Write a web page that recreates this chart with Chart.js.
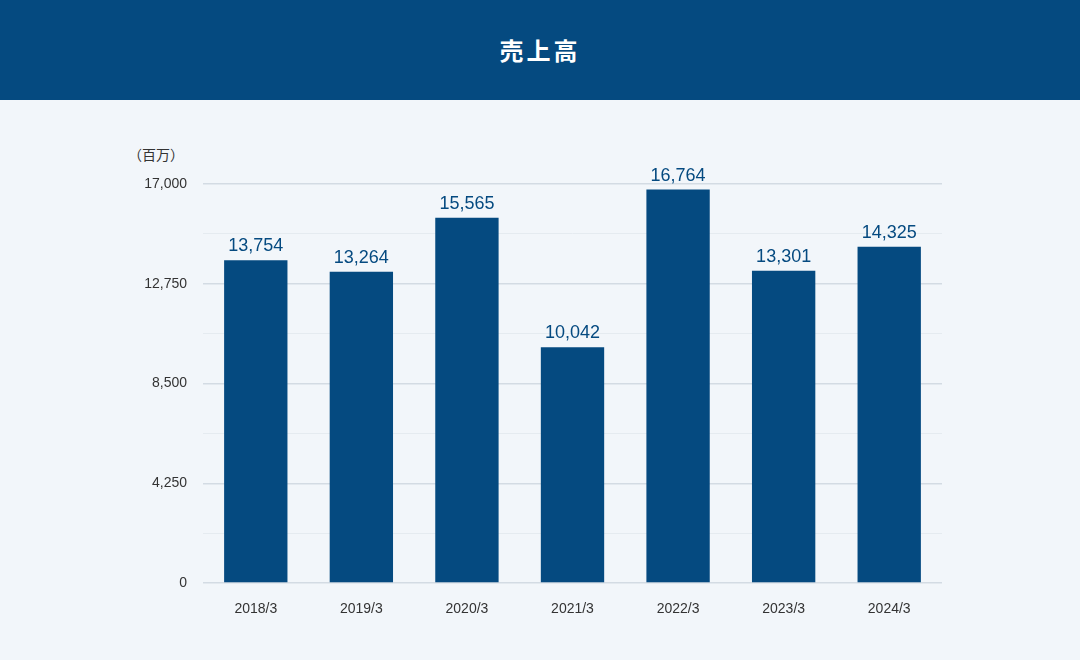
<!DOCTYPE html>
<html>
<head>
<meta charset="utf-8">
<script src="https://cdn.jsdelivr.net/npm/chart.js@4"></script>
<style>
  body { margin: 0; width: 1080px; height: 660px; background: #f2f6fa; font-family: "Noto Sans CJK JP", "Noto Sans", sans-serif; position: relative; overflow: hidden; }
  .head { height: 100px; background: #054a80; color: #fff; font-size: 24px; font-weight: bold; letter-spacing: 3px; text-align: center; line-height: 100px; }
  .unit { position: absolute; left: 128px; top: 144px; font-size: 14px; color: #333; }
  .wrap { position: absolute; left: 0; top: 100px; width: 1080px; height: 560px; }
</style>
</head>
<body>
<div class="head">売上高</div>
<div class="unit">（百万）</div>
<div class="wrap"><canvas id="salesChart"></canvas></div>
<script>
// data
const years = ['2018/3', '2019/3', '2020/3', '2021/3', '2022/3', '2023/3', '2024/3'];
const sales = [13754, 13264, 15565, 10042, 16764, 13301, 14325];
const yMax = 17000;
const yStep = 2125;

const barLabels = {
  id: 'barLabels',
  afterDatasetsDraw(chart) {
    const ctx = chart.ctx;
    ctx.save();
    ctx.fillStyle = '#054a80';
    ctx.font = '18px "Liberation Sans", Arial, sans-serif';
    ctx.textAlign = 'center';
    ctx.textBaseline = 'bottom';
    chart.getDatasetMeta(0).data.forEach((bar, i) => {
      ctx.fillText(sales[i].toLocaleString('en-US'), bar.x, bar.y - 5);
    });
    ctx.restore();
  }
};

new Chart(document.getElementById('salesChart'), {
  type: 'bar',
  data: {
    labels: years,
    datasets: [{ data: sales, backgroundColor: '#054a80', barPercentage: 0.6, categoryPercentage: 1 }]
  },
  options: {
    responsive: true,
    maintainAspectRatio: false,
    animation: false,
    layout: { padding: { top: 84, right: 138, left: 0, bottom: 0 } },
    plugins: { legend: { display: false }, tooltip: { enabled: false } },
    scales: {
      x: {
        grid: { display: false },
        border: { display: false },
        ticks: { color: '#333', font: { size: 14, family: '"Liberation Sans", Arial, sans-serif' }, padding: 10 },
        afterFit(scale) { scale.height = 77; }
      },
      y: {
        min: 0,
        max: yMax,
        border: { display: false },
        grid: {
          drawTicks: false,
          color: c => (c.tick.value % (yStep * 2) === 0 ? '#d3dbe3' : '#e5ebf0'),
          lineWidth: c => (c.tick.value % (yStep * 2) === 0 ? 1.5 : 1)
        },
        ticks: {
          stepSize: yStep,
          padding: 16,
          color: '#333',
          font: { size: 14, family: '"Liberation Sans", Arial, sans-serif' },
          callback: v => (v % (yStep * 2) === 0 ? v.toLocaleString('en-US') : '')
        },
        afterFit(scale) { scale.width = 203; }
      }
    }
  },
  plugins: [barLabels]
});
</script>
</body>
</html>
